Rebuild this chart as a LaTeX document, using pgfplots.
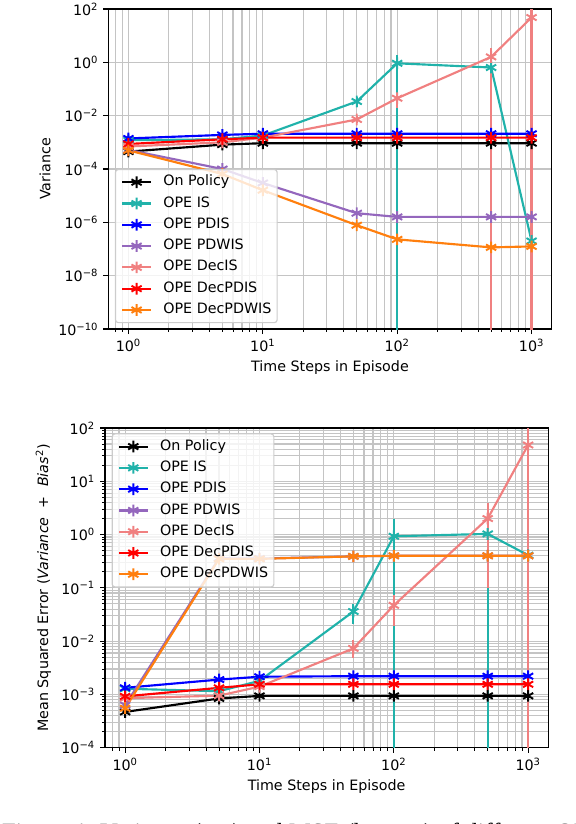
\documentclass[border=0pt]{standalone}
\usepackage{fontspec}
\setmainfont{DejaVu Sans}[ItalicFont={DejaVu Sans Oblique}]
\newfontfamily\capfont{Liberation Serif}
\usepackage{pgfplots}
\pgfplotsset{compat=1.18}
\definecolor{cIS}{HTML}{20B2AA}
\definecolor{cPDIS}{HTML}{0000FF}
\definecolor{cPDWIS}{HTML}{9467BD}
\definecolor{cDecIS}{HTML}{F08080}
\definecolor{cDecPDIS}{HTML}{FF0000}
\definecolor{cDecPDWIS}{HTML}{FF7F0E}
\definecolor{gridgray}{HTML}{C4C4C4}
\tikzset{
  ser/.style={line width=1.5pt, mark=asterisk, mark size=4.1pt, mark options={solid, line width=1.35pt}},
  eb/.style={line width=1.5pt, mark=none},
}
\pgfplotsset{
  every axis/.append style={
    scale only axis, xmode=log, ymode=log,
    xmin=0.70795, xmax=1412.54,
    xtick={1,10,100,1000},
    xticklabels={10\textsuperscript{0},10\textsuperscript{1},10\textsuperscript{2},10\textsuperscript{3}},
    minor xtick={0.8,0.9,2,3,4,5,6,7,8,9,20,30,40,50,60,70,80,90,200,300,400,500,600,700,800,900},
    grid=both,
    major grid style={line width=0.8pt, draw=gridgray},
    minor grid style={line width=0.8pt, draw=gridgray},
    tick align=outside, tick pos=left,
    major tick length=3.5pt, minor tick length=2pt,
    major tick style={line width=0.8pt, black},
    minor tick style={line width=0.6pt, black},
    axis line style={line width=0.9pt},
    ticklabel style={font=\fontsize{10}{12}\selectfont},
    label style={font=\fontsize{10}{12}\selectfont},
    xlabel={Time Steps in Episode},
    xlabel style={at={(axis description cs:0.5,-0.122)}, anchor=center},
    legend cell align=left,
    legend style={draw=black!20, line width=0.8pt, rounded corners=2pt,
      fill=white, fill opacity=0.8, text opacity=1,
      inner xsep=4pt, inner ysep=4pt, row sep=5.1pt, column sep=8pt,
      font=\fontsize{10}{12}\selectfont,
      nodes={inner sep=0pt, text height=7.4pt, text depth=2.4pt}},
  },
  legend image code/.code={\draw[mark repeat=2,mark phase=2,#1] plot coordinates {(0pt,0pt) (10pt,0pt) (20pt,0pt)};},
}
\begin{document}
\begin{tikzpicture}[x=1pt,y=1pt]
\useasboundingbox (0,0) rectangle (403.2,-576.8);
\clip (0,0) rectangle (403.2,-576.8);
% ---------------- top: variance ----------------
\begin{axis}[
  at={(75.8pt,-6.3pt)}, anchor=north west, width=310.4pt, height=224pt,
  ymin=1e-10, ymax=100,
  ytick={1e-10,1e-8,1e-6,1e-4,1e-2,1,100},
  yticklabels={10\textsuperscript{−10},10\textsuperscript{−8},10\textsuperscript{−6},10\textsuperscript{−4},10\textsuperscript{−2},10\textsuperscript{0},10\textsuperscript{2}},
  ylabel={Variance},
  ylabel style={at={(axis description cs:-0.1427,0.5)}, anchor=center},
  legend style={at={(0.015,0.018)}, anchor=south west},
]
\addplot[ser, black] coordinates {(1,4.5e-4) (5,8.2e-4) (10,9.3e-4) (50,9.3e-4) (100,9.3e-4) (500,9.3e-4) (1000,9.3e-4)};
\addlegendentry{On Policy}
\addplot[ser, cIS] coordinates {(1,1.2e-3) (5,1.3e-3) (10,1.8e-3) (50,0.034) (100,0.92) (500,0.64) (1000,2.0e-7)};
\addlegendentry{OPE IS}
\addplot[eb, cIS, forget plot] coordinates {(50,0.021) (50,0.052)};
\addplot[eb, cIS, forget plot] coordinates {(100,1e-12) (100,1.9)};
\addplot[eb, cIS, forget plot] coordinates {(500,1e-12) (500,1.4)};
\addplot[ser, cPDIS] coordinates {(1,1.4e-3) (5,1.9e-3) (10,2.1e-3) (50,2.1e-3) (100,2.1e-3) (500,2.1e-3) (1000,2.1e-3)};
\addlegendentry{OPE PDIS}
\addplot[ser, cPDWIS] coordinates {(1,5.2e-4) (5,1.0e-4) (10,3.0e-5) (50,2.2e-6) (100,1.6e-6) (500,1.6e-6) (1000,1.6e-6)};
\addlegendentry{OPE PDWIS}
\addplot[ser, cDecIS] coordinates {(1,7e-4) (5,1.0e-3) (10,1.5e-3) (50,7.2e-3) (100,0.045) (500,1.6) (1000,48)};
\addlegendentry{OPE DecIS}
\addplot[eb, cDecIS, forget plot] coordinates {(50,5.2e-3) (50,9.5e-3)};
\addplot[eb, cDecIS, forget plot] coordinates {(100,0.019) (100,0.071)};
\addplot[eb, cDecIS, forget plot] coordinates {(500,1e-12) (500,3.4)};
\addplot[eb, cDecIS, forget plot] coordinates {(1000,1e-12) (1000,1000)};
\addplot[ser, cDecPDIS] coordinates {(1,8.7e-4) (5,1.3e-3) (10,1.5e-3) (50,1.5e-3) (100,1.5e-3) (500,1.5e-3) (1000,1.5e-3)};
\addlegendentry{OPE DecPDIS}
\addplot[ser, cDecPDWIS] coordinates {(1,5e-4) (5,6.5e-5) (10,1.6e-5) (50,7.8e-7) (100,2.3e-7) (500,1.15e-7) (1000,1.25e-7)};
\addlegendentry{OPE DecPDWIS}
\end{axis}
% ---------------- bottom: MSE ----------------
\begin{axis}[
  at={(73.5pt,-299.6pt)}, anchor=north west, width=310.3pt, height=223.8pt,
  ymin=1e-4, ymax=100,
  ytick={1e-4,1e-3,1e-2,1e-1,1,10,100},
  yticklabels={10\textsuperscript{−4},10\textsuperscript{−3},10\textsuperscript{−2},10\textsuperscript{−1},10\textsuperscript{0},10\textsuperscript{1},10\textsuperscript{2}},
  minor ytick={2e-4,3e-4,4e-4,5e-4,6e-4,7e-4,8e-4,9e-4,
    2e-3,3e-3,4e-3,5e-3,6e-3,7e-3,8e-3,9e-3,
    0.02,0.03,0.04,0.05,0.06,0.07,0.08,0.09,
    0.2,0.3,0.4,0.5,0.6,0.7,0.8,0.9,
    2,3,4,5,6,7,8,9,20,30,40,50,60,70,80,90},
  ylabel={Mean Squared Error (\textit{Variance}\hspace{6.5pt}+\hspace{6.5pt}\textit{Bias}\textsuperscript{2})},
  ylabel style={at={(axis description cs:-0.139,0.5)}, anchor=center},
  legend style={at={(0.015,0.9835)}, anchor=north west},
]
\addplot[ser, black] coordinates {(1,4.7e-4) (5,8.4e-4) (10,9.4e-4) (50,9.4e-4) (100,9.4e-4) (500,9.4e-4) (1000,9.4e-4)};
\addlegendentry{On Policy}
\addplot[ser, cIS] coordinates {(1,1.28e-3) (5,1.15e-3) (10,1.8e-3) (50,0.036) (100,0.93) (500,1.03) (1000,0.41)};
\addlegendentry{OPE IS}
\addplot[eb, cIS, forget plot] coordinates {(50,0.021) (50,0.050)};
\addplot[eb, cIS, forget plot] coordinates {(100,1e-12) (100,2.0)};
\addplot[eb, cIS, forget plot] coordinates {(500,1e-12) (500,2.1)};
\addplot[ser, cPDIS] coordinates {(1,1.33e-3) (5,1.9e-3) (10,2.15e-3) (50,2.2e-3) (100,2.2e-3) (500,2.2e-3) (1000,2.2e-3)};
\addlegendentry{OPE PDIS}
\addplot[ser, cPDWIS] coordinates {(1,6.3e-4) (5,0.36) (10,0.355) (50,0.39) (100,0.40) (500,0.40) (1000,0.40)};
\addlegendentry{OPE PDWIS}
\addplot[ser, cDecIS] coordinates {(1,8.5e-4) (5,9.5e-4) (10,1.4e-3) (50,7.3e-3) (100,0.047) (500,2.0) (1000,48)};
\addlegendentry{OPE DecIS}
\addplot[eb, cDecIS, forget plot] coordinates {(50,4.9e-3) (50,0.0105)};
\addplot[eb, cDecIS, forget plot] coordinates {(100,0.019) (100,0.075)};
\addplot[eb, cDecIS, forget plot] coordinates {(500,0.1) (500,3.9)};
\addplot[eb, cDecIS, forget plot] coordinates {(1000,1e-12) (1000,1000)};
\addplot[ser, cDecPDIS] coordinates {(1,9.2e-4) (5,1.33e-3) (10,1.55e-3) (50,1.55e-3) (100,1.55e-3) (500,1.55e-3) (1000,1.55e-3)};
\addlegendentry{OPE DecPDIS}
\addplot[ser, cDecPDWIS] coordinates {(1,5.5e-4) (5,0.35) (10,0.35) (50,0.39) (100,0.40) (500,0.40) (1000,0.40)};
\addlegendentry{OPE DecPDWIS}
\end{axis}
% caption (cut by the page edge, as in the reference)
\node[anchor=base west, inner sep=0pt, font=\capfont\fontsize{17.3}{20}\selectfont] at (1.2,-588) {Figure 4: Variance (top) and MSE (bottom) of different OPE methods};
\end{tikzpicture}
\end{document}
